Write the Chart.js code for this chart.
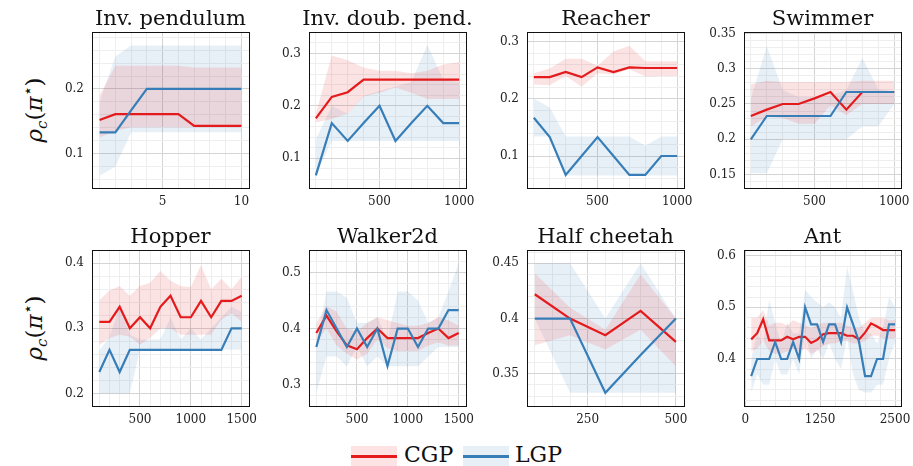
<!DOCTYPE html>
<html>
<head>
<meta charset="utf-8">
<script src="https://cdn.jsdelivr.net/npm/chart.js@4"></script>
<style>
  body { margin: 0; width: 913px; height: 466px; background: #fff; position: relative; overflow: hidden; font-family: "DejaVu Serif", serif; color: #111; }
  canvas { position: absolute; }
  .ylab { position: absolute; width: 100px; height: 28px; line-height: 28px; text-align: center; font-size: 23px; transform: rotate(-90deg); white-space: nowrap; }
  .ylab sub { font-size: 15px; vertical-align: -5px; }
  .ylab sup { font-size: 16px; vertical-align: 9px; }
  .lbox { position: absolute; width: 46px; height: 20px; }
  .lline { position: absolute; width: 46px; height: 3px; }
  .ltxt { position: absolute; font-size: 22px; line-height: 24px; }
</style>
</head>
<body>
<div class="ylab" style="left:-22px; top:96px;"><i>ρ</i><sub><i>c</i></sub>(<i>π</i><sup>⋆</sup>)</div>
<div class="ylab" style="left:-22px; top:314px;"><i>ρ</i><sub><i>c</i></sub>(<i>π</i><sup>⋆</sup>)</div>

<div class="lbox" style="left:351px; top:446px; background:#fde3e4;"></div>
<div class="lline" style="left:351px; top:455px; background:#e41a1c;"></div>
<div class="ltxt" style="left:404px; top:443px;">CGP</div>
<div class="lbox" style="left:463px; top:446px; background:#e7eff7;"></div>
<div class="lline" style="left:463px; top:455px; background:#377eb8;"></div>
<div class="ltxt" style="left:515px; top:443px;">LGP</div>

<script>
// Inv. pendulum
const pendX = [1, 2, 3, 4, 5, 6, 7, 8, 9, 10];
const pendCgp = [0.152, 0.161, 0.161, 0.161, 0.161, 0.161, 0.143, 0.143, 0.143, 0.143];
const pendCgpHi = [0.19, 0.236, 0.236, 0.236, 0.236, 0.236, 0.233, 0.233, 0.233, 0.233];
const pendCgpLo = [0.125, 0.135, 0.141, 0.141, 0.141, 0.141, 0.141, 0.141, 0.141, 0.141];
const pendLgp = [0.133, 0.133, 0.167, 0.2, 0.2, 0.2, 0.2, 0.2, 0.2, 0.2];
const pendLgpHi = [0.18, 0.25, 0.267, 0.267, 0.267, 0.267, 0.267, 0.267, 0.267, 0.267];
const pendLgpLo = [0.066, 0.08, 0.133, 0.133, 0.133, 0.133, 0.133, 0.133, 0.133, 0.133];

// Inv. doub. pend.
const doubX = [100, 200, 300, 400, 500, 600, 700, 800, 900, 1000];
const doubCgp = [0.176, 0.217, 0.226, 0.25, 0.25, 0.25, 0.25, 0.25, 0.25, 0.25];
const doubCgpHi = [0.185, 0.296, 0.287, 0.273, 0.267, 0.267, 0.262, 0.267, 0.279, 0.283];
const doubCgpLo = [0.168, 0.175, 0.185, 0.218, 0.225, 0.235, 0.225, 0.213, 0.213, 0.213];
const doubLgp = [0.067, 0.167, 0.133, 0.167, 0.2, 0.133, 0.167, 0.2, 0.167, 0.167];
const doubLgpHi = [0.136, 0.2, 0.185, 0.219, 0.229, 0.237, 0.245, 0.317, 0.25, 0.245];
const doubLgpLo = [0.067, 0.133, 0.133, 0.133, 0.133, 0.133, 0.133, 0.133, 0.133, 0.133];

// Reacher
const reachX = [100, 200, 300, 400, 500, 600, 700, 800, 900, 1000];
const reachCgp = [0.238, 0.238, 0.247, 0.238, 0.255, 0.247, 0.255, 0.254, 0.254, 0.254];
const reachCgpHi = [0.245, 0.253, 0.27, 0.27, 0.258, 0.283, 0.293, 0.266, 0.266, 0.266];
const reachCgpLo = [0.225, 0.224, 0.24, 0.221, 0.245, 0.243, 0.252, 0.239, 0.24, 0.24];
const reachLgp = [0.167, 0.133, 0.067, 0.1, 0.133, 0.1, 0.067, 0.067, 0.1, 0.1];
const reachLgpHi = [0.2, 0.185, 0.134, 0.134, 0.134, 0.134, 0.134, 0.118, 0.134, 0.134];
const reachLgpLo = [0.134, 0.134, 0.066, 0.066, 0.066, 0.066, 0.066, 0.066, 0.066, 0.066];

// Swimmer
const swimX = [100, 200, 300, 400, 500, 600, 700, 800, 900, 1000];
const swimCgp = [0.233, 0.242, 0.25, 0.25, 0.258, 0.267, 0.242, 0.267, 0.267, 0.267];
const swimCgpHi = [0.278, 0.283, 0.281, 0.281, 0.281, 0.281, 0.281, 0.283, 0.283, 0.283];
const swimCgpLo = [0.218, 0.232, 0.23, 0.222, 0.222, 0.248, 0.234, 0.25, 0.25, 0.25];
const swimLgp = [0.2, 0.233, 0.233, 0.233, 0.233, 0.233, 0.267, 0.267, 0.267, 0.267];
const swimLgpHi = [0.257, 0.332, 0.27, 0.26, 0.26, 0.262, 0.27, 0.315, 0.271, 0.267];
const swimLgpLo = [0.152, 0.152, 0.2, 0.2, 0.2, 0.2, 0.2, 0.218, 0.218, 0.25];

// Hopper
const hopX = [100, 200, 300, 400, 500, 600, 700, 800, 900, 1000, 1100, 1200, 1300, 1400, 1500];
const hopCgp = [0.31, 0.31, 0.333, 0.3, 0.317, 0.3, 0.333, 0.35, 0.317, 0.317, 0.342, 0.317, 0.342, 0.342, 0.35];
const hopCgpHi = [0.343, 0.358, 0.365, 0.35, 0.365, 0.37, 0.388, 0.373, 0.365, 0.363, 0.397, 0.36, 0.376, 0.36, 0.379];
const hopCgpLo = [0.275, 0.285, 0.29, 0.287, 0.275, 0.285, 0.3, 0.3, 0.29, 0.29, 0.29, 0.29, 0.313, 0.323, 0.31];
const hopLgp = [0.233, 0.267, 0.233, 0.267, 0.267, 0.267, 0.267, 0.267, 0.267, 0.267, 0.267, 0.267, 0.267, 0.3, 0.3];
const hopLgpHi = [0.266, 0.287, 0.333, 0.29, 0.283, 0.283, 0.283, 0.317, 0.283, 0.3, 0.283, 0.3, 0.317, 0.333, 0.325];
const hopLgpLo = [0.2, 0.2, 0.2, 0.2, 0.267, 0.267, 0.267, 0.267, 0.267, 0.267, 0.267, 0.267, 0.267, 0.267, 0.267];

// Walker2d
const walkX = [100, 200, 300, 400, 500, 600, 700, 800, 900, 1000, 1100, 1200, 1300, 1400, 1500];
const walkCgp = [0.392, 0.423, 0.395, 0.37, 0.363, 0.383, 0.4, 0.383, 0.383, 0.383, 0.383, 0.392, 0.4, 0.383, 0.392];
const walkCgpHi = [0.41, 0.44, 0.43, 0.4, 0.395, 0.41, 0.42, 0.415, 0.41, 0.405, 0.405, 0.41, 0.42, 0.415, 0.405];
const walkCgpLo = [0.375, 0.4, 0.37, 0.355, 0.345, 0.355, 0.38, 0.365, 0.36, 0.36, 0.36, 0.37, 0.375, 0.37, 0.37];
const walkLgp = [0.367, 0.433, 0.4, 0.367, 0.4, 0.367, 0.4, 0.333, 0.4, 0.4, 0.367, 0.4, 0.4, 0.433, 0.433];
const walkLgpHi = [0.37, 0.466, 0.466, 0.455, 0.41, 0.41, 0.42, 0.38, 0.466, 0.466, 0.45, 0.41, 0.42, 0.466, 0.517];
const walkLgpLo = [0.286, 0.35, 0.35, 0.333, 0.367, 0.333, 0.35, 0.333, 0.333, 0.333, 0.333, 0.35, 0.367, 0.367, 0.367];

// Half cheetah
const cheetX = [100, 200, 300, 400, 500];
const cheetCgp = [0.422, 0.4, 0.385, 0.407, 0.379];
const cheetCgpHi = [0.441, 0.41, 0.39, 0.44, 0.4];
const cheetCgpLo = [0.376, 0.385, 0.372, 0.39, 0.357];
const cheetLgp = [0.4, 0.4, 0.333, 0.367, 0.4];
const cheetLgpHi = [0.45, 0.45, 0.4, 0.45, 0.4];
const cheetLgpLo = [0.4, 0.333, 0.333, 0.333, 0.333];

// Ant
const antX = [100, 200, 300, 400, 500, 600, 700, 800, 900, 1000, 1100, 1200, 1300, 1400, 1500, 1600, 1700, 1800, 1900, 2000, 2100, 2200, 2300, 2400, 2500];
const antCgp = [0.438, 0.45, 0.477, 0.436, 0.436, 0.436, 0.443, 0.438, 0.443, 0.443, 0.431, 0.437, 0.448, 0.45, 0.45, 0.45, 0.445, 0.445, 0.438, 0.451, 0.469, 0.463, 0.456, 0.456, 0.456];
const antCgpHi = [0.48, 0.48, 0.495, 0.465, 0.47, 0.47, 0.465, 0.475, 0.47, 0.465, 0.46, 0.465, 0.47, 0.47, 0.47, 0.47, 0.465, 0.46, 0.46, 0.47, 0.48, 0.48, 0.48, 0.475, 0.475];
const antCgpLo = [0.415, 0.42, 0.435, 0.415, 0.41, 0.41, 0.415, 0.42, 0.415, 0.42, 0.41, 0.415, 0.425, 0.43, 0.43, 0.435, 0.435, 0.43, 0.43, 0.435, 0.445, 0.445, 0.44, 0.44, 0.44];
const antLgp = [0.367, 0.4, 0.4, 0.4, 0.433, 0.4, 0.4, 0.433, 0.4, 0.5, 0.467, 0.467, 0.433, 0.467, 0.467, 0.433, 0.5, 0.467, 0.433, 0.367, 0.367, 0.4, 0.4, 0.467, 0.467];
const antLgpHi = [0.4, 0.45, 0.43, 0.515, 0.47, 0.43, 0.47, 0.45, 0.45, 0.534, 0.52, 0.51, 0.5, 0.51, 0.5, 0.48, 0.579, 0.53, 0.48, 0.45, 0.45, 0.43, 0.46, 0.52, 0.5];
const antLgpLo = [0.335, 0.37, 0.35, 0.35, 0.4, 0.37, 0.37, 0.4, 0.37, 0.45, 0.4, 0.42, 0.4, 0.43, 0.4, 0.38, 0.44, 0.37, 0.34, 0.335, 0.335, 0.35, 0.35, 0.4, 0.433];

const RED = '#e41a1c', BLUE = '#377eb8';
const RED_BAND = 'rgba(228,26,28,0.12)', BLUE_BAND = 'rgba(55,126,184,0.115)';
const MAJOR_GRID = '#d4d4d4', MINOR_GRID = '#eeeeee';

const colLeft = [92, 309, 527, 744];
const rowTop = [32, 250];
const plotW = 157, plotH = 156;
const padL = 60, padT = 32, padR = 22, padB = 24;

// axis ranges: [min, max, minor step, major step]
// (range / minor step is kept clear of a whole number, or Chart.js re-spaces the ticks)
const panels = [
  { title: 'Inv. pendulum', x: pendX, cgp: pendCgp, cgpHi: pendCgpHi, cgpLo: pendCgpLo, lgp: pendLgp, lgpHi: pendLgpHi, lgpLo: pendLgpLo,
    xr: [0.52, 10.48, 1, 5], yr: [0.047, 0.288, 0.02, 0.1], col: 0, row: 0 },
  { title: 'Inv. doub. pend.', x: doubX, cgp: doubCgp, cgpHi: doubCgpHi, cgpLo: doubCgpLo, lgp: doubLgp, lgpHi: doubLgpHi, lgpLo: doubLgpLo,
    xr: [57, 1043, 100, 500], yr: [0.043, 0.341, 0.02, 0.1], col: 1, row: 0 },
  { title: 'Reacher', x: reachX, cgp: reachCgp, cgpHi: reachCgpHi, cgpLo: reachCgpLo, lgp: reachLgp, lgpHi: reachLgpHi, lgpLo: reachLgpLo,
    xr: [57, 1043, 100, 500], yr: [0.044, 0.317, 0.02, 0.1], col: 2, row: 0 },
  { title: 'Swimmer', x: swimX, cgp: swimCgp, cgpHi: swimCgpHi, cgpLo: swimCgpLo, lgp: swimLgp, lgpHi: swimLgpHi, lgpLo: swimLgpLo,
    xr: [57, 1043, 100, 500], yr: [0.131, 0.352, 0.01, 0.05], col: 3, row: 0 },
  { title: 'Hopper', x: hopX, cgp: hopCgp, cgpHi: hopCgpHi, cgpLo: hopCgpLo, lgp: hopLgp, lgpHi: hopLgpHi, lgpLo: hopLgpLo,
    xr: [28, 1572, 100, 500], yr: [0.181, 0.42, 0.02, 0.1], col: 0, row: 1 },
  { title: 'Walker2d', x: walkX, cgp: walkCgp, cgpHi: walkCgpHi, cgpLo: walkCgpLo, lgp: walkLgp, lgpHi: walkLgpHi, lgpLo: walkLgpLo,
    xr: [28, 1572, 100, 500], yr: [0.262, 0.54, 0.02, 0.1], col: 1, row: 1 },
  { title: 'Half cheetah', x: cheetX, cgp: cheetCgp, cgpHi: cheetCgpHi, cgpLo: cheetCgpLo, lgp: cheetLgp, lgpHi: cheetLgpHi, lgpLo: cheetLgpLo,
    xr: [78, 523, 50, 250], yr: [0.321, 0.462, 0.01, 0.05], col: 2, row: 1 },
  { title: 'Ant', x: antX, cgp: antCgp, cgpHi: antCgpHi, cgpLo: antCgpLo, lgp: antLgp, lgpHi: antLgpHi, lgpLo: antLgpLo,
    xr: [-20, 2600, 250, 1250], yr: [0.309, 0.611, 0.02, 0.1], col: 3, row: 1 },
];

Chart.defaults.font.family = '"DejaVu Serif", serif';
Chart.defaults.color = '#222';

const isMajor = (v, m) => Math.abs(v / m - Math.round(v / m)) < 1e-6;
const pts = (xs, ys) => xs.map((x, i) => ({ x: x, y: ys[i] }));

const framePlugin = {
  id: 'frame',
  afterDatasetsDraw(chart) {
    const a = chart.chartArea, ctx = chart.ctx;
    ctx.save();
    ctx.strokeStyle = '#111';
    ctx.lineWidth = 1;
    ctx.strokeRect(Math.round(a.left) + 0.5, Math.round(a.top) + 0.5, Math.round(a.right - a.left), Math.round(a.bottom - a.top));
    ctx.restore();
  },
  afterDraw(chart) {
    const a = chart.chartArea, ctx = chart.ctx;
    ctx.save();
    ctx.font = '21px "DejaVu Serif", serif';
    ctx.fillStyle = '#111';
    ctx.textAlign = 'center';
    ctx.textBaseline = 'alphabetic';
    ctx.fillText(chart.options.plugins.frame.title, (a.left + a.right) / 2, a.top - 7);
    ctx.restore();
  }
};

function axis(r, fmt, isX) {
  return {
    type: 'linear', min: r[0], max: r[1],
    afterFit(s) { if (isX) s.height = padB; else s.width = padL; },
    border: { display: false },
    grid: {
      drawTicks: false,
      color: c => (c.tick && isMajor(c.tick.value, r[3])) ? MAJOR_GRID : MINOR_GRID,
      lineWidth: 1
    },
    ticks: {
      stepSize: r[2], includeBounds: false, autoSkip: false, maxRotation: 0, minRotation: 0,
      maxTicksLimit: 200, padding: isX ? 7 : 8, font: { size: 12 },
      callback: v => isMajor(v, r[3]) ? fmt(v) : ''
    }
  };
}

panels.forEach(p => {
  const cv = document.createElement('canvas');
  const w = padL + plotW + padR, h = padT + plotH + padB;
  cv.width = w; cv.height = h;
  cv.style.left = (colLeft[p.col] - padL) + 'px';
  cv.style.top = (rowTop[p.row] - padT) + 'px';
  cv.style.width = w + 'px'; cv.style.height = h + 'px';
  document.body.appendChild(cv);

  const band = (ys, color, fill) => ({ data: pts(p.x, ys), borderColor: 'transparent', borderWidth: 0, backgroundColor: color, fill: fill, order: 5 });
  new Chart(cv, {
    type: 'line',
    data: {
      datasets: [
        band(p.cgpHi, RED_BAND, '+1'),
        band(p.cgpLo, RED_BAND, false),
        band(p.lgpHi, BLUE_BAND, '+1'),
        band(p.lgpLo, BLUE_BAND, false),
        { label: 'CGP', data: pts(p.x, p.cgp), borderColor: RED, borderWidth: 2.2, fill: false, order: 2 },
        { label: 'LGP', data: pts(p.x, p.lgp), borderColor: BLUE, borderWidth: 2.2, fill: false, order: 1 }
      ]
    },
    options: {
      responsive: false,
      animation: false,
      devicePixelRatio: 1,
      layout: { padding: { top: padT, right: padR, left: 0, bottom: 0 } },
      elements: { point: { radius: 0 }, line: { tension: 0, borderJoinStyle: 'miter' } },
      plugins: { legend: { display: false }, tooltip: { enabled: false }, frame: { title: p.title } },
      scales: {
        x: axis(p.xr, v => String(v), true),
        y: axis(p.yr, v => String(+v.toFixed(2)), false)
      }
    },
    plugins: [framePlugin]
  });
});
</script>
</body>
</html>
